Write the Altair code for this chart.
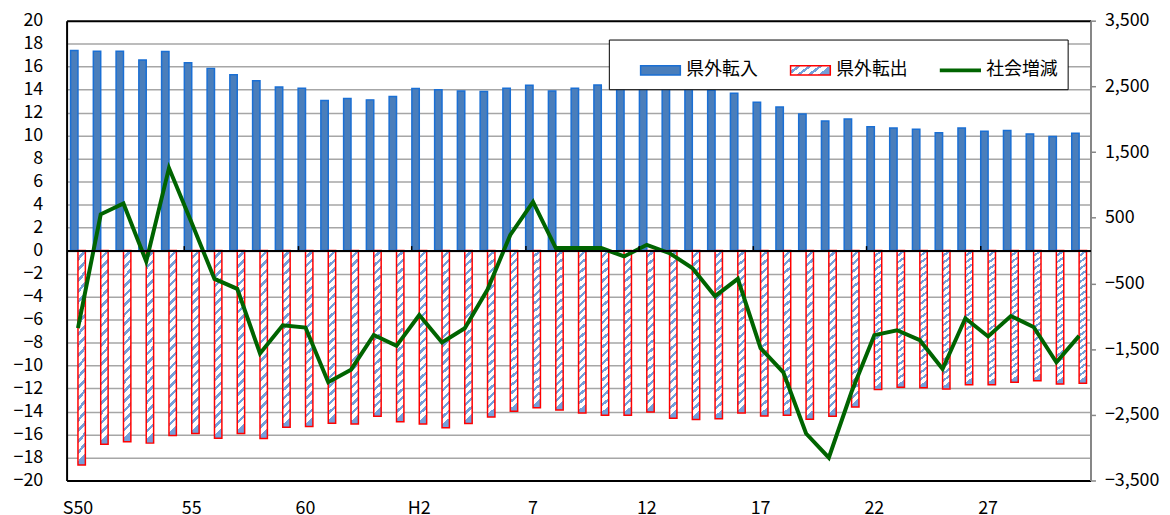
import altair as alt
import pandas as pd

years = ["S50", "S51", "S52", "S53", "S54", "S55", "S56", "S57", "S58", "S59",
         "S60", "S61", "S62", "S63", "H1", "H2", "H3", "H4", "H5", "H6",
         "H7", "H8", "H9", "H10", "H11", "H12", "H13", "H14", "H15", "H16",
         "H17", "H18", "H19", "H20", "H21", "H22", "H23", "H24", "H25", "H26",
         "H27", "H28", "H29", "H30", "H31"]

# 県外転入 (千人)
inflow = [17.41, 17.35, 17.35, 16.57, 17.32, 16.34, 15.85, 15.30, 14.78, 14.24,
          14.12, 13.05, 13.23, 13.11, 13.40, 14.09, 14.00, 13.89, 13.83, 14.12,
          14.38, 13.89, 14.12, 14.41, 14.24, 14.13, 14.50, 14.40, 13.95, 13.69,
          12.91, 12.48, 11.88, 11.27, 11.45, 10.78, 10.67, 10.55, 10.24, 10.67,
          10.38, 10.44, 10.15, 9.92, 10.20]

# 県外転出 (千人, negative)
outflow = [-18.65, -16.84, -16.63, -16.75, -16.09, -15.91, -16.32, -15.91, -16.35, -15.37,
           -15.31, -15.02, -15.08, -14.42, -14.90, -15.08, -15.42, -15.05, -14.47, -13.98,
           -13.67, -13.87, -14.13, -14.33, -14.33, -14.04, -14.59, -14.70, -14.62, -14.13,
           -14.39, -14.33, -14.68, -14.42, -13.61, -12.09, -11.88, -11.94, -12.05, -11.68,
           -11.68, -11.45, -11.33, -11.60, -11.54]

# 社会増減 (人)
social = [-1180, 552, 718, -165, 1257, 420, -431, -582, -1565, -1137,
          -1172, -2004, -1813, -1284, -1450, -981, -1399, -1182, -593, 239,
          742, 38, 38, 38, -89, 88, -40, -265, -694, -431,
          -1485, -1853, -2785, -3153, -2150, -1288, -1213, -1364, -1802, -1031,
          -1308, -996, -1163, -1701, -1299]

series_names = ["県外転入", "県外転出", "社会増減"]
tick_years = ["S50", "S55", "S60", "H2", "H7", "H12", "H17", "H22", "H27"]
tick_labels = ["S50", "55", "60", "H2", "7", "12", "17", "22", "27"]
boundary_years = ["S55", "S60", "H2", "H7", "H12", "H17", "H22", "H27"]
left_ticks = list(range(-20, 21, 2))
right_ticks = [3500, 2500, 1500, 500, -500, -1500, -2500, -3500]

n = len(years)
bars_df = pd.DataFrame({
    "year": years * 2,
    "series": [series_names[0]] * n + [series_names[1]] * n,
    "value": inflow + outflow,
})
line_df = pd.DataFrame({"year": years, "social": social})
legend_df = pd.DataFrame({"series": series_names})

FONT = "Noto Sans CJK JP"
BLUE_FILL = "#4a7ebb"
BLUE_EDGE = "#1a6fd4"
RED_EDGE = "#ff0000"
GREEN = "#006400"
STRIPE = "#74a0da"
GRID = "#a6a6a6"
RECT_PATH = "M-1,-0.23H1V0.23H-1Z"
LINE_PATH = "M-1,-0.06H1V0.06H-1Z"


def stripe_stops(count, duty=0.62):
    stops = []
    for k in range(count):
        o0 = k / count
        o1 = (k + duty) / count
        o2 = (k + 1) / count
        stops += [(o0, "#ffffff"), (o1, "#ffffff"), (o1, STRIPE), (o2, STRIPE)]
    return stops


def gradient(x2, y2, count):
    return {"gradient": "linear", "x1": 0, "y1": 0, "x2": x2, "y2": y2,
            "stops": [{"offset": round(o, 4), "color": c} for o, c in stripe_stops(count)]}


def gradient_js(x2, y2, count):
    return ("{gradient:'linear',x1:0,y1:0,x2:%s,y2:%s,stops:[" % (x2, y2)
            + ",".join("{offset:%s,color:'%s'}" % (round(o, 4), c) for o, c in stripe_stops(count))
            + "]}")


bar_hatch = gradient(0.04, 1, 20)

label_map = "{" + ",".join("'%s':'%s'" % (k, v) for k, v in zip(tick_years, tick_labels)) + "}[datum.value]"


def build(hatch_entry):
    x_scale = alt.Scale(domain=years, paddingInner=0.35, paddingOuter=0.175)
    is_in = alt.datum.series == series_names[0]

    bars = alt.Chart(bars_df).mark_bar(strokeWidth=1.5).encode(
        x=alt.X("year:N", sort=years, scale=x_scale, title=None,
                axis=alt.Axis(orient="bottom", values=tick_years, labelExpr=label_map,
                              ticks=False, domain=False, labelPadding=19, labelFontSize=18,
                              labelAngle=0, labelColor="black", grid=False, labelFont=FONT)),
        xOffset=alt.XOffset("series:N", sort=series_names[:2],
                            scale=alt.Scale(domain=series_names[:2], paddingInner=0, paddingOuter=0)),
        y=alt.Y("value:Q", scale=alt.Scale(domain=[-20, 20], nice=False, zero=False), title=None,
                axis=alt.Axis(values=left_ticks, grid=True,
                              gridColor=alt.condition("abs(datum.value) === 20", alt.value("black"), alt.value(GRID)),
                              gridWidth=alt.condition("abs(datum.value) === 20", alt.value(2), alt.value(1.5)),
                              domainColor="black", domainWidth=2, ticks=False, labelPadding=24,
                              labelFontSize=18, labelColor="black", labelFont=FONT, zindex=0)),
        fill=alt.condition(is_in, alt.value(BLUE_FILL), alt.value(bar_hatch)),
        stroke=alt.condition(is_in, alt.value(BLUE_EDGE), alt.value(RED_EDGE)),
    )

    line = alt.Chart(line_df).mark_line(strokeWidth=4, color=GREEN).encode(
        x=alt.X("year:N", sort=years, scale=x_scale, title=None,
                axis=alt.Axis(orient="top", offset=-231.5, values=boundary_years, bandPosition=0,
                              labels=False, ticks=True, tickSize=5, tickColor="black", tickWidth=1.5,
                              domain=True, domainColor="black", domainWidth=2, grid=False, zindex=1)),
        y=alt.Y("social:Q", scale=alt.Scale(domain=[-3500, 3500], nice=False, zero=False), title=None,
                axis=alt.Axis(orient="right", values=right_ticks, format=",d", grid=False,
                              domainColor="#868686", domainWidth=2, tickColor="#868686", tickSize=5,
                              tickWidth=1.5, labelPadding=9, labelAlign="left", labelFontSize=18,
                              labelColor="black", labelFont=FONT)),
    )

    legend = alt.Legend(
        title="\u25a0", titleOrient="left", titlePadding=3, titleFontSize=18, titleFont=FONT,
        titleColor="white", orient="none", legendX=546, legendY=19, direction="horizontal",
        columns=3, fillColor="white", strokeColor="black", padding=10,
        symbolSize=1600, symbolStrokeWidth=1.5, labelFontSize=18,
        labelFont=FONT, labelColor="black", labelOffset=5, columnPadding=30,
        labelLimit=300,
    )
    keys = alt.Chart(legend_df).transform_filter("false").mark_point(filled=True, opacity=1).encode(
        fill=alt.Fill("series:N", legend=legend,
                      scale=alt.Scale(domain=series_names, range=[BLUE_FILL, hatch_entry, GREEN])),
        stroke=alt.Stroke("series:N", legend=legend,
                          scale=alt.Scale(domain=series_names, range=[BLUE_EDGE, RED_EDGE, GREEN])),
        shape=alt.Shape("series:N", legend=legend,
                        scale=alt.Scale(domain=series_names, range=[RECT_PATH, RECT_PATH, LINE_PATH])),
    )

    chart = alt.layer(bars, line, keys).resolve_scale(y="independent").resolve_axis(x="independent").properties(
        width=1031, height=463,
        padding={"left": 59, "top": 11, "right": 72, "bottom": 33},
        autosize=alt.AutoSizeParams(type="none"),
    ).configure_view(stroke="black", strokeWidth=2).configure(font=FONT)
    return chart


chart = None
for entry in [{"expr": gradient_js(1, 0.3, 4)}, "#c3d5ee"]:
    try:
        c = build(entry)
        c.to_dict()
        chart = c
        break
    except Exception:
        continue

chart.save("out.html", embed_options={"renderer": "svg", "actions": False})
